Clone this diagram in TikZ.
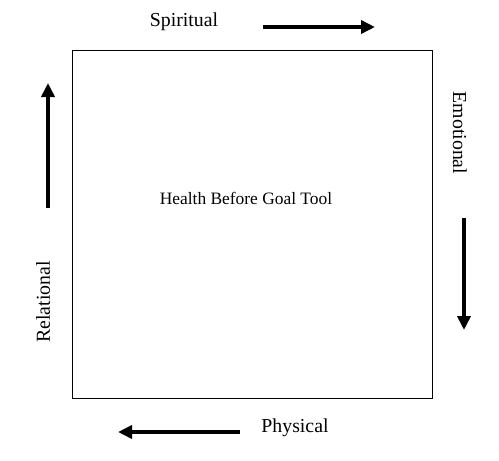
\documentclass[tikz,border=0pt]{standalone}
\usepackage{fontspec}
\setmainfont{Liberation Serif}
\usetikzlibrary{arrows.meta,positioning}
\tikzset{
  flow/.style={-{Triangle[length=14pt,width=13pt]},line width=3.6pt},
  side/.style={font=\fontsize{19.8}{22}\selectfont,inner sep=0pt}
}
\begin{document}
\begin{tikzpicture}[x=1pt,y=-1pt]
\useasboundingbox (0,0) rectangle (499,461);
% tool frame
\node[draw,line width=.8pt,minimum width=360pt,minimum height=348pt,inner sep=0pt] (tool) at (252,224) {};
\node[font=\fontsize{17.4}{19}\selectfont] (title) at (246,198) {Health Before Goal Tool};
% side labels
\node[side] (spiritual) at (184,22) {Spiritual};
\node[side,rotate=-90] (emotional) at (460,133) {Emotional};
\node[side] (physical) at (295,428) {Physical};
\node[side,rotate=90] (relational) at (43,302) {Relational};
% arrows
\coordinate (s1) at (263,27);\coordinate (s2) at (375,27);
\coordinate (e1) at (464,218);\coordinate (e2) at (464,330);
\coordinate (p1) at (240,432);\coordinate (p2) at (118,432);
\coordinate (r1) at (48,208);\coordinate (r2) at (48,83);
\draw[flow] (s1)--(s2);
\draw[flow] (e1)--(e2);
\draw[flow] (p1)--(p2);
\draw[flow] (r1)--(r2);
\end{tikzpicture}
\end{document}
